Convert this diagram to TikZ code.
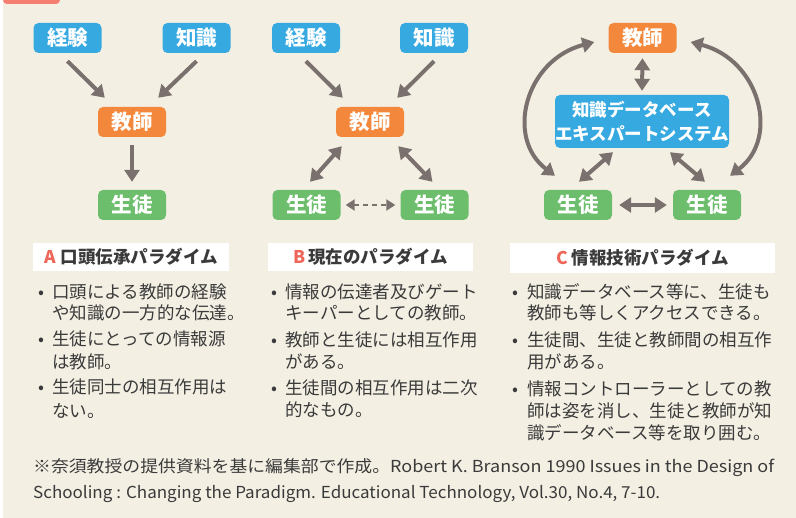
\documentclass[tikz,border=0pt]{standalone}
\usepackage{fontspec}
\usepackage{graphicx}
\setmainfont{Noto Sans CJK JP}
\usetikzlibrary{arrows.meta,calc}
\definecolor{bgc}{HTML}{F3EFE3}
\definecolor{cblue}{HTML}{36A9E1}
\definecolor{corange}{HTML}{F3873B}
\definecolor{cgreen}{HTML}{6CBE6C}
\definecolor{agray}{HTML}{7A706D}
\definecolor{tdark}{HTML}{3A3A3A}
\definecolor{cred}{HTML}{EE6659}
\definecolor{csalmon}{HTML}{F47E72}
\begin{document}
\begin{tikzpicture}[x=1pt,y=-1pt,
  box/.style={rounded corners=5pt, minimum width=68pt, minimum height=30pt, inner sep=0pt, text=white, font=\fontsize{20.5}{20.5}\selectfont\bfseries},
  kbox/.style={box, fill=cblue},
  tbox/.style={box, fill=corange},
  sbox/.style={box, fill=cgreen},
  arr/.style={draw=agray, line width=4pt, -{Triangle[width=15pt,length=12pt]}},
  darr/.style={draw=agray, line width=4pt, {Triangle[width=15pt,length=12pt]}-{Triangle[width=15pt,length=12pt]}},
  dsh/.style={draw=agray, line width=2.5pt, dash pattern=on 5pt off 4pt, {Triangle[width=11pt,length=9pt]}-{Triangle[width=11pt,length=9pt]}},
  hd/.style={fill=white, minimum height=28pt, inner sep=0pt, font=\fontsize{17.5}{17.5}\selectfont\bfseries, text=tdark},
  bl/.style={anchor=base west, inner sep=0pt, font=\fontsize{17.5}{21}\selectfont, text=tdark},
  dot/.style={anchor=base, inner sep=0pt, font=\fontsize{17.5}{21}\selectfont, text=tdark},
  foot/.style={anchor=base west, inner sep=0pt, font=\fontsize{16.5}{16.5}\selectfont, text=tdark}
]
\useasboundingbox (0,0) rectangle (796,518);
\fill[white] (0,0) rectangle (796,518);
\fill[bgc] (3,0) rectangle (796,518);
\fill[csalmon, rounded corners=4pt] (3,-8) rectangle (60,4);

% ---- A ----
\node[kbox] (a1) at (67.5,38) {経験};
\node[kbox] (a2) at (196.5,38) {知識};
\node[tbox] (at) at (132,122) {教師};
\node[sbox] (as) at (132,205) {生徒};
\draw[arr] ([yshift=-8pt]a1.south) -- ([xshift=7pt,yshift=9pt]at.north west);
\draw[arr] ([yshift=-8pt]a2.south) -- ([xshift=-8pt,yshift=9pt]at.north east);
\draw[arr] ([yshift=-8pt]at.south) -- ([yshift=8pt]as.north);

% ---- B ----
\node[kbox] (b1) at (306,38) {経験};
\node[kbox] (b2) at (434,38) {知識};
\node[tbox] (bt) at (370,122) {教師};
\node[sbox] (bs1) at (306.5,205) {生徒};
\node[sbox] (bs2) at (434.5,205) {生徒};
\draw[arr] ([yshift=-8pt]b1.south) -- ([xshift=7pt,yshift=9pt]bt.north west);
\draw[arr] ([yshift=-8pt]b2.south) -- ([xshift=-7pt,yshift=9pt]bt.north east);
\draw[darr] ([xshift=6pt,yshift=-9pt]bt.south west) -- ([xshift=3.5pt,yshift=8pt]bs1.north);
\draw[darr] ([xshift=-6pt,yshift=-9pt]bt.south east) -- ([xshift=-2pt,yshift=8pt]bs2.north);
\draw[dsh] ([xshift=5pt]bs1.east) -- ([xshift=-5pt]bs2.west);

% ---- C ----
\node[tbox] (ct) at (642.5,38) {教師};
\node[kbox, minimum width=174pt, minimum height=53pt, align=center, font=\fontsize{17.5}{24}\selectfont\bfseries] (kb) at (642,121.5) {知識データベース\\エキスパートシステム};
\node[sbox] (cs1) at (578,205) {生徒};
\node[sbox] (cs2) at (707,205) {生徒};
\draw[darr] ([yshift=-5pt]ct.south) -- ([yshift=4pt]kb.north);
\draw[darr] ([xshift=-29pt,yshift=-4pt]kb.south) -- ([xshift=1pt,yshift=8pt]cs1.north);
\draw[darr] ([xshift=28pt,yshift=-4pt]kb.south) -- ([xshift=-2pt,yshift=8pt]cs2.north);
\draw[darr] ([xshift=7pt]cs1.east) -- ([xshift=-6pt]cs2.west);
\draw[darr] ([xshift=-14pt,yshift=-4pt]ct.west) .. controls +(-69,18) and +(-50,-38) .. ([xshift=-23pt,yshift=14pt]cs1.north);
\draw[darr] ([xshift=14pt,yshift=-4pt]ct.east) .. controls +(69,18) and +(50,-38) .. ([xshift=23pt,yshift=14pt]cs2.north);

% ---- headings ----
\node[hd, minimum width=196pt] (ha) at (131,257) {\textcolor{cred}{A}\hspace{5pt}口頭伝承パラダイム};
\node[hd, minimum width=205pt] (hb) at (370.5,257) {\textcolor{cred}{B}\hspace{3pt}現在のパラダイム};
\node[hd, minimum width=265pt, minimum height=30pt] (hc) at (642.5,258) {\textcolor{cred}{C}\hspace{4pt}情報技術パラダイム};

% ---- A bullets ----
\node[dot] (ad1) at (41,298.5) {•};
\node[bl] (al1) at (52,298.5) {口頭による教師の経験};
\node[bl] (al2) at (52,320) {や知識の一方的な伝達。};
\node[dot] (ad2) at (41,346) {•};
\node[bl] (al3) at (52,346) {生徒にとっての情報源};
\node[bl] (al4) at (52,368.5) {は教師。};
\node[dot] (ad3) at (41,394) {•};
\node[bl] (al5) at (52,394) {生徒同士の相互作用は};
\node[bl] (al6) at (52,418) {ない。};

% ---- B bullets ----
\node[dot] (bd1) at (274,298.5) {•};
\node[bl] (bl1) at (285,298.5) {情報の伝達者及びゲート};
\node[bl] (bl2) at (285,320) {キーパーとしての教師。};
\node[dot] (bd2) at (274,346.5) {•};
\node[bl] (bl3) at (285,346.5) {教師と生徒には相互作用};
\node[bl] (bl4) at (285,368.5) {がある。};
\node[dot] (bd3) at (274,394.5) {•};
\node[bl] (bl5) at (285,394.5) {生徒間の相互作用は二次};
\node[bl] (bl6) at (285,416.5) {的なもの。};

% ---- C bullets ----
\node[dot] (cd1) at (515,298.5) {•};
\node[bl] (cl1) at (527,298.5) {知識データベース等に、生徒も};
\node[bl] (cl2) at (527,320) {教師も等しくアクセスできる。};
\node[dot] (cd2) at (515,346.5) {•};
\node[bl] (cl3) at (527,346.5) {生徒間、生徒と教師間の相互作};
\node[bl] (cl4) at (527,368.5) {用がある。};
\node[dot] (cd3) at (515,395.5) {•};
\node[bl] (cl5) at (527,395.5) {情報コントローラーとしての教};
\node[bl] (cl6) at (527,418) {師は姿を消し、生徒と教師が知};
\node[bl] (cl7) at (527,439.5) {識データベース等を取り囲む。};

% ---- footer ----
\node[foot] (f1) at (33,473) {\resizebox{357pt}{\height}{※奈須教授の提供資料を基に編集部で作成。}\resizebox{384pt}{\height}{Robert K. Branson 1990 Issues in the Design of}};
\node[foot] (f2) at (33,498.5) {\resizebox{627pt}{\height}{Schooling : Changing the Paradigm. Educational Technology, Vol.30, No.4, 7-10.}};
\end{tikzpicture}
\end{document}
